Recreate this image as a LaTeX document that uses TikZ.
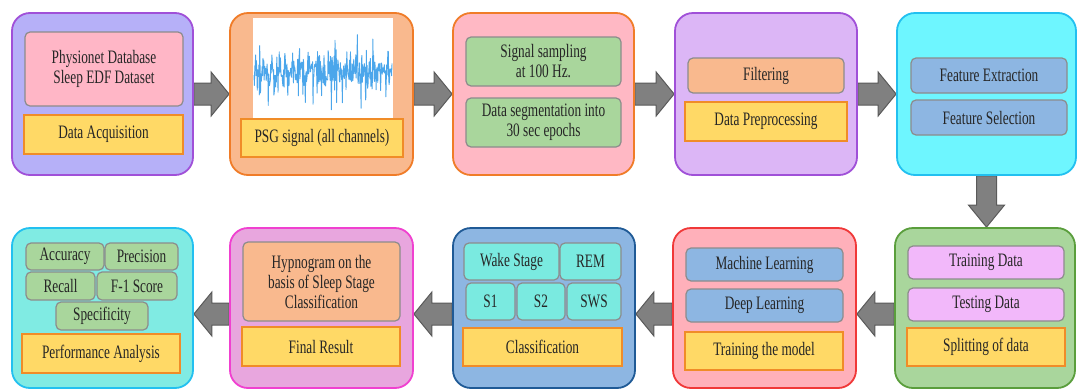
\documentclass[tikz,border=0pt]{standalone}
\usepackage{fontspec}
\setmainfont{Liberation Serif}[FakeStretch=0.7]
\usetikzlibrary{calc}
\pgfdeclarelayer{background}
\pgfsetlayers{background,main}

\definecolor{txt}{HTML}{262626}
\definecolor{innerline}{HTML}{8C8C8C}
\definecolor{labfill}{HTML}{FFD966}
\definecolor{labline}{HTML}{F08C28}
\definecolor{pinkfill}{HTML}{FFB6C6}
\definecolor{greenfill}{HTML}{A9D69C}
\definecolor{peachfill}{HTML}{F9B98E}
\definecolor{bluefill}{HTML}{8DB6E2}
\definecolor{lilacfill}{HTML}{F2B8FA}
\definecolor{turqfill}{HTML}{7AEAE0}
\definecolor{lavender}{HTML}{B6B0F8}
\definecolor{purpleline}{HTML}{A050D8}
\definecolor{orangeline}{HTML}{F07C28}
\definecolor{rosefill}{HTML}{FFB8C4}
\definecolor{violetfill}{HTML}{DCB6F6}
\definecolor{cyanfill}{HTML}{6EF6FF}
\definecolor{cyanline}{HTML}{22C0F0}
\definecolor{greenline}{HTML}{5A9E3C}
\definecolor{redfill}{HTML}{FFB0BA}
\definecolor{redline}{HTML}{F03838}
\definecolor{navyline}{HTML}{1F5A96}
\definecolor{magentafill}{HTML}{E8A6DE}
\definecolor{magentaline}{HTML}{F040D0}
\definecolor{tealfill}{HTML}{80EBE3}
\definecolor{arrowfill}{HTML}{808080}
\definecolor{arrowline}{HTML}{5A5A5A}
\definecolor{signal}{HTML}{1E90E6}

\tikzset{
  outer/.style={draw, rounded corners=18pt, line width=1.8pt, inner sep=0pt},
  inner/.style={draw=innerline, rounded corners=5pt, line width=1.2pt, inner sep=0pt,
    align=center, text=txt, font=\fontsize{19}{20}\selectfont},
  lab/.style={draw=labline, fill=labfill, line width=1.4pt, inner sep=0pt,
    align=center, text=txt, font=\fontsize{19}{20}\selectfont},
  fatarrow/.style={draw=arrowline, fill=arrowfill, line width=1pt, line join=miter},
}

% \boxat{name}{style}{x1}{y1}{x2}{y2}{text}
\newcommand\boxat[7]{%
  \node[#2, minimum width={#5-#3}, minimum height={#6-#4}] (#1)
    at ({(#3+#5)/2},{(#4+#6)/2}) {#7};}

% block arrows between named boxes
\newcommand\arrowR[2]{%
  \draw[fatarrow] let \p1=(#1.east), \p2=(#2.west) in
   (\x1,\y1+11pt) -- (\x2-18pt,\y1+11pt) -- (\x2-18pt,\y1+22pt) -- (\x2,\y1)
   -- (\x2-18pt,\y1-22pt) -- (\x2-18pt,\y1-11pt) -- (\x1,\y1-11pt) -- cycle;}
\newcommand\arrowL[2]{%
  \draw[fatarrow] let \p1=(#1.west), \p2=(#2.east) in
   (\x1,\y1+5pt) -- (\x2+18pt,\y1+5pt) -- (\x2+18pt,\y1+16pt) -- (\x2,\y1-6pt)
   -- (\x2+18pt,\y1-28pt) -- (\x2+18pt,\y1-17pt) -- (\x1,\y1-17pt) -- cycle;}
\newcommand\arrowD[2]{%
  \draw[fatarrow] let \p1=(#1.south), \p2=(#2.north) in
   (\x1-10pt,\y1) -- (\x1-10pt,\y2+22pt) -- (\x1-18pt,\y2+22pt) -- (\x1,\y2)
   -- (\x1+18pt,\y2+22pt) -- (\x1+10pt,\y2+22pt) -- (\x1+10pt,\y1) -- cycle;}

\begin{document}
\begin{tikzpicture}[x=1pt, y=-1pt]
\useasboundingbox (0,0) rectangle (1078,389);

% ---------- top row ----------
\boxat{acqbox}{outer, draw=purpleline, fill=lavender}{12}{13}{193}{175}{}
\boxat{db}{inner, fill=pinkfill}{25}{32}{183}{106}{Physionet Database\\Sleep EDF Dataset}
\boxat{acq}{lab}{24}{115}{183}{154}{Data Acquisition}

\boxat{psgbox}{outer, draw=orangeline, fill=peachfill}{230}{13}{413}{175}{}
\boxat{psg}{fill=white, inner sep=0pt}{253}{18}{393}{118}{}
\begin{scope}
  \clip (253,18) rectangle (393,118);
  \pgfmathsetseed{11}
  \draw[signal, line width=0.9pt, opacity=0.8, line join=round]
    plot[domain=254:392, samples=340]
      (\x, {72 + 10*rand + 50*rand*rand*rand});
\end{scope}
\boxat{psgl}{lab}{241}{119}{403}{157}{PSG signal (all channels)}

\boxat{sampbox}{outer, draw=orangeline, fill=rosefill}{453}{13}{634}{175}{}
\boxat{samp}{inner, fill=greenfill}{466}{37}{621}{86}{Signal sampling\\at 100 Hz.}
\boxat{seg}{inner, fill=greenfill}{466}{98}{621}{147}{Data segmentation into\\30 sec epochs}

\boxat{prepbox}{outer, draw=purpleline, fill=violetfill}{675}{13}{857}{175}{}
\boxat{filt}{inner, fill=peachfill}{688}{58}{844}{93}{Filtering}
\boxat{prep}{lab}{685}{102}{847}{141}{Data Preprocessing}

\boxat{featbox}{outer, draw=cyanline, fill=cyanfill}{897}{13}{1076}{175}{}
\boxat{fext}{inner, fill=bluefill}{911}{58}{1067}{93}{Feature Extraction}
\boxat{fsel}{inner, fill=bluefill}{911}{100}{1067}{135}{Feature Selection}

% ---------- bottom row ----------
\boxat{splitbox}{outer, draw=greenline, fill=greenfill}{895}{228}{1075}{388}{}
\boxat{train}{inner, fill=lilacfill}{908}{246}{1064}{279}{Training Data}
\boxat{test}{inner, fill=lilacfill}{908}{288}{1064}{321}{Testing Data}
\boxat{split}{lab}{907}{328}{1065}{366}{Splitting of data}

\boxat{modelbox}{outer, draw=redline, fill=redfill}{673}{228}{856}{388}{}
\boxat{ml}{inner, fill=bluefill}{686}{248}{843}{281}{Machine Learning}
\boxat{dl}{inner, fill=bluefill}{686}{289}{843}{322}{Deep Learning}
\boxat{tm}{lab}{685}{332}{843}{370}{Training the model}

\boxat{clsbox}{outer, draw=navyline, fill=bluefill}{453}{228}{635}{388}{}
\boxat{wake}{inner, fill=turqfill}{464}{243}{559}{280}{Wake Stage}
\boxat{rem}{inner, fill=turqfill}{560}{243}{621}{280}{REM}
\boxat{s1}{inner, fill=turqfill}{466}{283}{515}{320}{S1}
\boxat{s2}{inner, fill=turqfill}{517}{283}{565}{320}{S2}
\boxat{sws}{inner, fill=turqfill}{567}{283}{621}{320}{SWS}
\boxat{cls}{lab}{463}{328}{622}{366}{Classification}

\boxat{resbox}{outer, draw=magentaline, fill=magentafill}{230}{228}{413}{388}{}
\boxat{hyp}{inner, fill=peachfill}{243}{242}{400}{321}{Hypnogram on the\\basis of Sleep Stage\\Classification}
\boxat{fin}{lab}{242}{327}{400}{366}{Final Result}

\boxat{perfbox}{outer, draw=cyanline, fill=tealfill}{12}{228}{193}{388}{}
\boxat{acc}{inner, fill=greenfill}{26}{243}{104}{270}{Accuracy}
\boxat{prec}{inner, fill=greenfill}{105}{243}{178}{270}{Precision}
\boxat{rec}{inner, fill=greenfill}{26}{272}{95}{300}{Recall}
\boxat{f1}{inner, fill=greenfill}{97}{272}{177}{300}{F-1 Score}
\boxat{spec}{inner, fill=greenfill}{56}{302}{148}{330}{Specificity}
\boxat{perf}{lab}{22}{334}{180}{373}{Performance Analysis}

% ---------- flow arrows, behind the boxes ----------
\begin{pgfonlayer}{background}
  \fill[white] (0,0) rectangle (1078,389);
  \arrowR{acqbox}{psgbox}
  \arrowR{psgbox}{sampbox}
  \arrowR{sampbox}{prepbox}
  \arrowR{prepbox}{featbox}
  \arrowD{featbox}{splitbox}
  \arrowL{splitbox}{modelbox}
  \arrowL{modelbox}{clsbox}
  \arrowL{clsbox}{resbox}
  \arrowL{resbox}{perfbox}
\end{pgfonlayer}
\end{tikzpicture}
\end{document}
